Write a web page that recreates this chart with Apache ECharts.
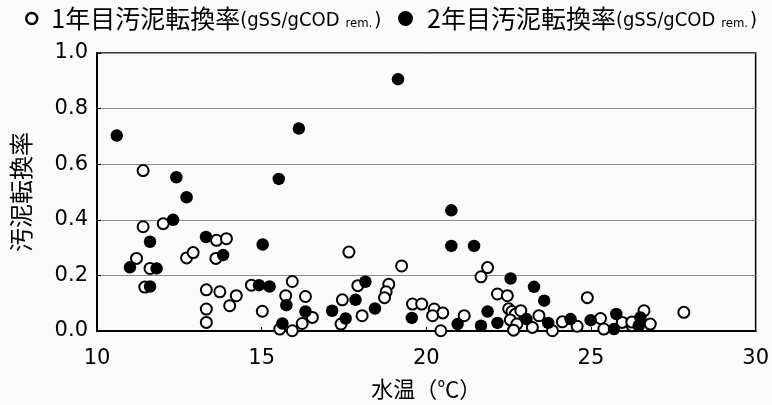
<!DOCTYPE html>
<html>
<head>
<meta charset="utf-8">
<script src="https://cdn.jsdelivr.net/npm/echarts@6/dist/echarts.min.js"></script>
<style>
  html, body { margin: 0; padding: 0; background: #fbfbfb; }
  #chart { width: 772px; height: 405px; }
</style>
</head>
<body>
<div id="chart"></div>
<script>
// Water temperature (°C) and sludge conversion rate (gSS/gCOD rem.), year 1
const temps1 = [11.40, 11.40, 12.01, 13.63, 13.93, 12.72, 12.92, 13.61, 11.20, 11.61,
  11.45, 13.32, 13.73, 14.23, 14.03, 13.32, 13.32, 14.69, 15.93, 15.02,
  15.73, 16.33, 16.54, 16.23, 15.93, 15.55, 17.65, 17.45, 18.05, 17.41,
  17.92, 18.86, 18.78, 18.73, 19.25, 19.58, 19.86, 20.24, 20.50, 20.19,
  20.44, 21.15, 21.66, 21.86, 22.16, 22.46, 22.50, 22.60, 22.70, 22.55,
  22.75, 22.65, 22.87, 23.42, 23.22, 23.83, 24.13, 24.58, 25.29, 25.39,
  25.95, 26.25, 27.82, 26.61, 26.80, 26.24, 24.89];
const rates1 = [0.577, 0.375, 0.386, 0.326, 0.332, 0.263, 0.282, 0.261, 0.261, 0.225,
  0.158, 0.148, 0.141, 0.127, 0.091, 0.079, 0.031, 0.165, 0.178, 0.071,
  0.127, 0.124, 0.049, 0.027, 0.001, 0.007, 0.284, 0.112, 0.055, 0.025,
  0.163, 0.168, 0.141, 0.120, 0.234, 0.097, 0.097, 0.079, 0.065, 0.055,
  0.001, 0.055, 0.195, 0.228, 0.133, 0.127, 0.080, 0.070, 0.060, 0.040,
  0.025, 0.003, 0.073, 0.055, 0.013, 0.001, 0.033, 0.017, 0.045, 0.007,
  0.031, 0.019, 0.067, 0.073, 0.025, 0.032, 0.120];

// Year 2
const temps2 = [10.60, 16.13, 12.41, 15.52, 12.72, 12.31, 11.61, 13.31, 13.83, 15.03,
  11.00, 11.81, 11.61, 14.92, 15.24, 15.75, 16.33, 15.63, 17.14, 17.85,
  17.55, 18.15, 18.44, 19.14, 20.76, 20.76, 21.45, 22.56, 19.56, 20.95,
  21.66, 21.86, 22.16, 23.04, 23.27, 23.58, 23.70, 24.38, 24.99, 25.77,
  25.70, 26.45, 26.50];
const rates2 = [0.703, 0.728, 0.553, 0.547, 0.481, 0.400, 0.321, 0.338, 0.273, 0.311,
  0.229, 0.225, 0.160, 0.165, 0.160, 0.093, 0.070, 0.027, 0.073, 0.112,
  0.045, 0.177, 0.081, 0.906, 0.434, 0.306, 0.306, 0.189, 0.047, 0.025,
  0.019, 0.070, 0.029, 0.043, 0.159, 0.109, 0.029, 0.043, 0.039, 0.061,
  0.007, 0.019, 0.049];

const xTicks = [10, 15, 20, 25, 30];
const yTicks = [0.0, 0.2, 0.4, 0.6, 0.8, 1.0];

const name1 = '1年目汚泥転換率';
const name2 = '2年目汚泥転換率';
const unitMain = '(gSS/gCOD';
const unitSmall = 'rem.';

const zip = (xs, ys) => xs.map((x, i) => [x, ys[i]]);

const jpFont = '"Noto Sans CJK JP", sans-serif';
const numFont = '"DejaVu Sans", Verdana, sans-serif';
const condFont = '"DejaVu Sans Condensed", "DejaVu Sans", sans-serif';

const legendRich = {
  a: { fontFamily: jpFont, fontSize: 25, color: '#000', padding: [0, 0, 0, 9] },
  u: { fontFamily: condFont, fontSize: 20, color: '#000', verticalAlign: 'bottom' },
  r: { fontFamily: condFont, fontSize: 13, color: '#000', verticalAlign: 'bottom', padding: [0, 2, 1, 6] }
};
const legendFormatter = (n) => `{a|${n}}{u|${unitMain}}{r|${unitSmall}}{u|)}`;

const chart = echarts.init(document.getElementById('chart'));
chart.setOption({
  backgroundColor: '#fbfbfb',
  animation: false,
  legend: [
    {
      left: 25, top: 6, padding: 0, itemWidth: 11, itemHeight: 11, itemGap: 0,
      data: [{ name: name1, icon: 'circle', itemStyle: { color: '#fff', borderColor: '#000', borderWidth: 2.5 } }],
      formatter: legendFormatter,
      textStyle: { rich: legendRich }
    },
    {
      left: 398, top: 6, padding: 0, itemWidth: 15, itemHeight: 15, itemGap: 0,
      data: [{ name: name2, icon: 'circle', itemStyle: { color: '#000' } }],
      formatter: legendFormatter,
      textStyle: { rich: legendRich }
    }
  ],
  grid: {
    left: 97, right: 14, top: 53, bottom: 73,
    show: true, borderColor: '#000', borderWidth: 1.5, backgroundColor: '#fbfbfb'
  },
  xAxis: {
    type: 'value', min: xTicks[0], max: xTicks[xTicks.length - 1], interval: 5,
    name: '水温（℃）', nameLocation: 'middle', nameGap: 47,
    nameTextStyle: { fontFamily: jpFont, fontSize: 22, color: '#000' },
    axisLine: { show: true, lineStyle: { color: '#000', width: 2 } },
    axisTick: { show: true, inside: true, length: 4, lineStyle: { color: '#000' } },
    axisLabel: { color: '#000', fontSize: 21, fontFamily: numFont, margin: 17 },
    splitLine: { show: false }
  },
  yAxis: {
    type: 'value', min: yTicks[0], max: yTicks[yTicks.length - 1], interval: 0.2,
    name: '汚泥転換率', nameLocation: 'middle', nameGap: 64,
    nameTextStyle: { fontFamily: jpFont, fontSize: 24, color: '#000' },
    axisLine: { show: true, lineStyle: { color: '#000', width: 2 } },
    axisTick: { show: true, inside: true, length: 4, lineStyle: { color: '#000' } },
    axisLabel: { color: '#000', fontSize: 21, fontFamily: numFont, margin: 9,
      formatter: (v) => v.toFixed(1) },
    splitLine: { show: true, lineStyle: { color: '#8c8c8c', width: 1 } }
  },
  series: [
    {
      name: name1, type: 'scatter', symbol: 'circle', symbolSize: 11,
      itemStyle: { color: '#fff', borderColor: '#000', borderWidth: 2, opacity: 1 },
      data: zip(temps1, rates1), z: 2
    },
    {
      name: name2, type: 'scatter', symbol: 'circle', symbolSize: 12.5,
      itemStyle: { color: '#000', opacity: 1 },
      data: zip(temps2, rates2), z: 3
    }
  ]
});
</script>
</body>
</html>
